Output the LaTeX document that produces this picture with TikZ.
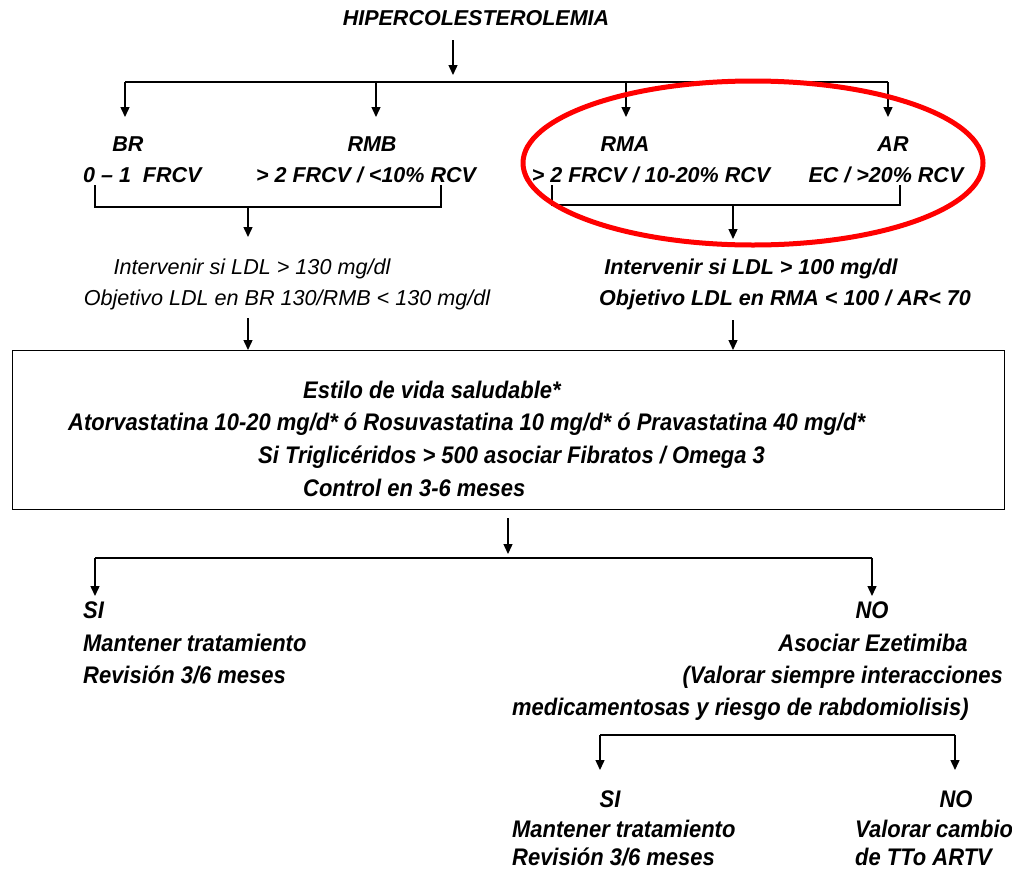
\documentclass[tikz,border=0pt]{standalone}
\usepackage{fontspec}
\setmainfont{Liberation Sans}
\newfontfamily\narrowfont{Liberation Sans}[FakeStretch=0.915]
\usetikzlibrary{arrows.meta}
\begin{document}
\begin{tikzpicture}[x=1pt,y=-1pt,
  every node/.style={inner sep=0pt},
  upb/.style={font=\fontsize{21.5}{24}\selectfont\bfseries\itshape},
  upr/.style={font=\fontsize{21.6}{24}\selectfont\itshape},
  low/.style={font=\narrowfont\fontsize{24}{28}\selectfont\bfseries\itshape},
  conn/.style={line width=1.4pt},
  arr/.style={conn,-{Triangle[width=9pt,length=10pt]}},
  framebox/.style={draw,line width=1.4pt,anchor=north west}
]
\useasboundingbox (0,0) rectangle (1012,871);

% --- title and first split
\node[upb,anchor=base] (title) at (476,25) {HIPERCOLESTEROLEMIA};
\coordinate (ta) at (453,40);
\coordinate (tb) at (453,75);
\draw[arr] (ta) -- (tb);

\coordinate (h1) at (125,82);
\coordinate (h2) at (376,82);
\coordinate (h3) at (626,82);
\coordinate (h4) at (888,82);
\coordinate (h1e) at (125,117);
\coordinate (h2e) at (376,117);
\coordinate (h3e) at (626,117);
\coordinate (h4e) at (888,117);
\draw[conn] (h1) -- (h4);
\draw[arr] (h1) -- (h1e);
\draw[arr] (h2) -- (h2e);
\draw[arr] (h3) -- (h3e);
\draw[arr] (h4) -- (h4e);

% --- risk groups
\node[upb,anchor=base] (br)  at (128,151) {BR};
\node[upb,anchor=base] (rmb) at (372,151) {RMB};
\node[upb,anchor=base] (rma) at (625,151) {RMA};
\node[upb,anchor=base] (ar)  at (893,151) {AR};
\node[upb,anchor=base west] (brv) at (83,182) {0 -- 1\ \ FRCV};
\node[upb,anchor=base] (rmbv) at (366,182) {> 2 FRCV / <10\% RCV};
\node[upb,anchor=base] (rmav) at (651,182) {> 2 FRCV / 10-20\% RCV};
\node[upb,anchor=base] (arv)  at (886,182) {EC / >20\% RCV};

% --- brackets joining the groups
\coordinate (lb1) at (95,185);
\coordinate (lb2) at (95,207);
\coordinate (lb3) at (441,207);
\coordinate (lb4) at (441,185);
\draw[conn] (lb1) -- (lb2) -- (lb3) -- (lb4);
\coordinate (la) at (248,207);
\coordinate (lae) at (248,237);
\draw[arr] (la) -- (lae);

\coordinate (rb1) at (552,185);
\coordinate (rb2) at (552,205);
\coordinate (rb3) at (900,205);
\coordinate (rb4) at (900,185);
\draw[conn] (rb1) -- (rb2) -- (rb3) -- (rb4);
\coordinate (ra) at (733,205);
\coordinate (rae) at (733,239);
\draw[arr] (ra) -- (rae);

% --- LDL targets
\node[upr,anchor=base] (intl) at (252,274) {Intervenir si LDL > 130 mg/dl};
\node[upr,anchor=base] (objl) at (287,305) {Objetivo LDL en BR 130/RMB < 130 mg/dl};
\node[upb,anchor=base] (intr) at (751,274) {Intervenir si LDL > 100 mg/dl};
\node[upb,anchor=base] (objr) at (785,305) {Objetivo LDL en RMA < 100 / AR< 70};

% --- treatment box
\node[framebox,minimum width=992pt,minimum height=159pt] (box) at (12,350) {};
\coordinate (lt) at (248,318);
\coordinate (rt) at (733,320);
\draw[arr] (lt) -- (lt |- box.north);
\draw[arr] (rt) -- (rt |- box.north);

\node[low,anchor=base west] (b1) at (303,398) {Estilo de vida saludable*};
\node[low,anchor=base west] (b2) at (68,430) {Atorvastatina 10-20 mg/d* ó Rosuvastatina 10 mg/d* ó Pravastatina 40 mg/d*};
\node[low,anchor=base west] (b3) at (258,463) {Si Triglicéridos > 500 asociar Fibratos / Omega 3};
\node[low,anchor=base west] (b4) at (303,496) {Control en 3-6 meses};

% --- control result
\coordinate (ba) at (508,518);
\coordinate (bae) at (508,554);
\draw[arr] (ba) -- (bae);
\coordinate (s1) at (95,558);
\coordinate (s2) at (872,558);
\coordinate (s1e) at (95,596);
\coordinate (s2e) at (872,596);
\draw[conn] (s1) -- (s2);
\draw[arr] (s1) -- (s1e);
\draw[arr] (s2) -- (s2e);

\node[low,anchor=base west] (si1) at (83,618) {SI};
\node[low,anchor=base west] (si1a) at (83,651) {Mantener tratamiento};
\node[low,anchor=base west] (si1b) at (83,683) {Revisión 3/6 meses};

\node[low,anchor=base] (no1) at (872,618) {NO};
\node[low,anchor=base] (no1a) at (873,651) {Asociar Ezetimiba};
\node[low,anchor=base east] (no1b) at (1003,683) {(Valorar siempre interacciones};
\node[low,anchor=base west] (no1c) at (512,715) {medicamentosas y riesgo de rabdomiolisis)};

% --- second control result
\coordinate (d1) at (600,770);
\coordinate (d2) at (600,735);
\coordinate (d3) at (955,735);
\coordinate (d4) at (955,770);
\draw[conn] (d2) -- (d3);
\draw[arr] (d2) -- (d1);
\draw[arr] (d3) -- (d4);

\node[low,anchor=base] (si2) at (610,807) {SI};
\node[low,anchor=base] (no2) at (956,807) {NO};
\node[low,anchor=base west] (si2a) at (512,837) {Mantener tratamiento};
\node[low,anchor=base west] (si2b) at (512,865) {Revisión 3/6 meses};
\node[low,anchor=base west] (no2a) at (855,837) {Valorar cambio};
\node[low,anchor=base west] (no2b) at (855,865) {de TTo ARTV};

% --- highlight of the high-risk groups
\draw[red,line width=5pt] (753,163) ellipse [x radius=230, y radius=82];
\end{tikzpicture}
\end{document}
